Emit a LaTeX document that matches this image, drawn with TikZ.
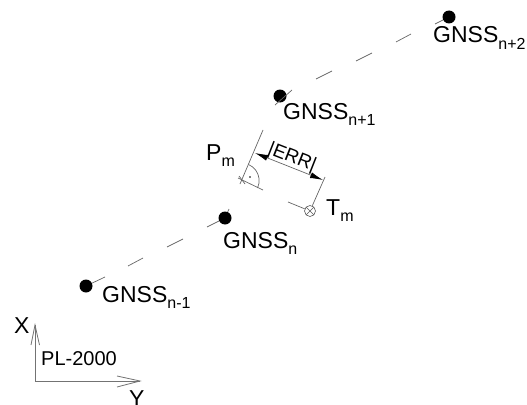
\documentclass[tikz,border=0pt]{standalone}
\usepackage{fontspec}
\setmainfont{Liberation Sans}
\usetikzlibrary{arrows.meta}
\tikzset{
  x=1pt,y=-1pt,
  gnss/.style={circle,fill=black,inner sep=0pt,minimum size=13pt},
  thin line/.style={draw=black!60,line width=0.7pt},
  lab/.style={inner sep=0pt,font=\fontsize{23}{26}\selectfont,text=black,anchor=base west},
  axis/.style={draw=black!55,line width=0.8pt},
}
\newcommand{\sbs}[1]{\raisebox{-6pt}{\fontsize{16}{18}\selectfont #1}}
\begin{document}
\begin{tikzpicture}
\useasboundingbox (0,0) rectangle (527,404);
% GNSS points
\node[gnss] (n2) at (449,17) {};
\node[gnss] (n1) at (280,96) {};
\node[gnss] (n0) at (225,218) {};
\node[gnss] (nm) at (86,286) {};
% dashes along the track
\coordinate (a1) at (105,277);
\coordinate (a2) at (128,266);
\coordinate (a3) at (143,258);
\coordinate (a4) at (167,247);
\coordinate (a5) at (183,239);
\coordinate (a6) at (207,227);
\coordinate (a7) at (229,209);
\coordinate (a8) at (275,105);
\coordinate (a9) at (292,90);
\coordinate (c1) at (316,79);
\coordinate (c2) at (332,71);
\coordinate (c3) at (356,61);
\coordinate (c4) at (372,53);
\coordinate (b1) at (396,42);
\coordinate (b2) at (411,34);
\coordinate (b3) at (435,24);
\draw[thin line] (nm) -- (a1);
\draw[thin line] (a2) -- (a3);
\draw[thin line] (a4) -- (a5);
\draw[thin line] (a6) -- (n0);
\draw[thin line] (n0) -- (a7);
\draw[thin line] (a8) -- (a9);
\draw[thin line] (c1) -- (c2);
\draw[thin line] (c3) -- (c4);
\draw[thin line] (b1) -- (b2);
\draw[thin line] (b3) -- (n2);
% measurement
\coordinate (Pm) at (242,180);
\node[circle,draw=black!65,line width=0.6pt,minimum size=11pt,inner sep=0pt,
      path picture={\draw[black!65,line width=0.6pt] (path picture bounding box.north west) -- (path picture bounding box.south east)
      (path picture bounding box.north east) -- (path picture bounding box.south west);}] (Tm) at (310,211) {};
\coordinate (e1) at (263,130);
\coordinate (e2) at (240,184);
\coordinate (e3) at (325,177);
\coordinate (e4) at (288,202);
\coordinate (e5) at (263,190);
\coordinate (e6) at (238,178);
\coordinate (d1) at (255,153);
\coordinate (d2) at (323,180);
\draw[thin line] (e1) -- (e2);
\draw[thin line] (e3) -- (Tm);
\draw[thin line] (e4) -- (Tm);
\draw[thin line] (e6) -- (e5);
\draw[thin line,{Latex[length=13pt,width=6pt,color=black]}-{Latex[length=13pt,width=6pt,color=black]}] (d1) -- (d2);
\draw[thin line] (Pm) ++(-3,-4) -- ++(6,8);
\draw[thin line] (248.5,164.5) arc[start angle=-67,end angle=25,radius=17.5];
\fill (250,177) circle[radius=0.9];
\node[inner sep=0pt,rotate=-21.5,font=\fontsize{19}{21}\selectfont] (err) at (292,158) {|ERR|};
% labels
\node[lab] (l2) at (433,43) {GNSS\sbs{n+2}};
\node[lab] (l1) at (283,119) {GNSS\sbs{n+1}};
\node[lab] (l0) at (223,248) {GNSS\sbs{n}};
\node[lab] (lm) at (102,302) {GNSS\sbs{n-1}};
\node[lab] (P) at (206,160) {P\sbs{m}};
\node[lab] (T) at (326,215) {T\sbs{m}};
% axes
\coordinate (O) at (35,381);
\coordinate (Xt) at (35,325);
\coordinate (Yt) at (140,381);
\coordinate (x1) at (31,345);
\coordinate (x2) at (39.5,345);
\coordinate (y1) at (117,376);
\coordinate (y2) at (117,387);
\draw[axis] (Xt) -- (O) -- (Yt);
\draw[axis] (x1) -- (Xt) -- (x2);
\draw[axis] (y1) -- (Yt) -- (y2);
\node[lab] (X) at (14,333) {X};
\node[lab] (Y) at (129,406) {Y};
\node[lab,font=\fontsize{20}{22}\selectfont] (pl) at (41,365) {PL-2000};
\end{tikzpicture}
\end{document}
